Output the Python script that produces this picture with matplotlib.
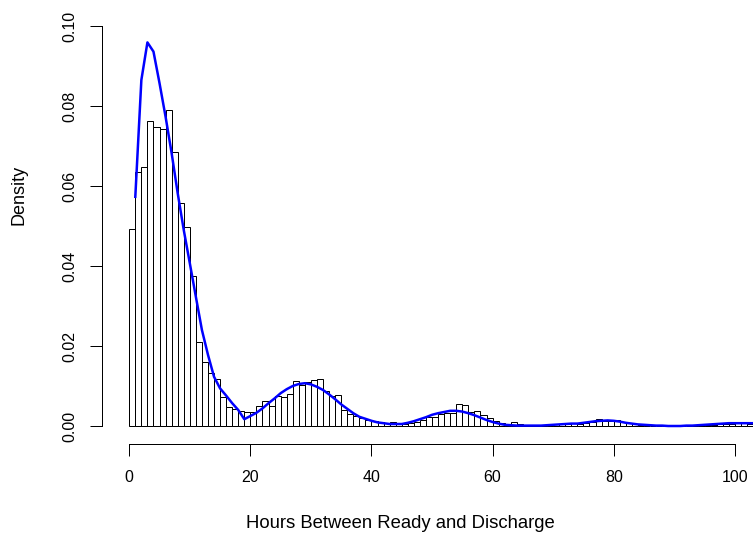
import numpy as np
import matplotlib
matplotlib.use('Agg')
from matplotlib import pyplot as plt

plt.rcParams['font.family'] = ['Liberation Sans', 'DejaVu Sans']

# histogram, 1 hour bins starting at 0
bin_edges = np.arange(0, 104)
bar_heights = [
    0.0492, 0.0636, 0.0648, 0.0763, 0.0747, 0.0742, 0.0790, 0.0684, 0.0558, 0.0498,
    0.0374, 0.0210, 0.0160, 0.0133, 0.0118, 0.0073, 0.0048, 0.0042, 0.0037, 0.0034,
    0.0035, 0.0050, 0.0063, 0.0051, 0.0076, 0.0073, 0.0080, 0.0112, 0.0102, 0.0111,
    0.0116, 0.0117, 0.0088, 0.0076, 0.0078, 0.0040, 0.0030, 0.0025, 0.0020, 0.0015,
    0.0012, 0.0010, 0.0008, 0.0009, 0.0007, 0.0006, 0.0008, 0.0011, 0.0015, 0.0023,
    0.0022, 0.0030, 0.0032, 0.0032, 0.0054, 0.0052, 0.0035, 0.0038, 0.0027, 0.0019,
    0.0012, 0.0007, 0.0006, 0.0011, 0.0004, 0.0003, 0.0003, 0.0002, 0.0003, 0.0003,
    0.0004, 0.0005, 0.0006, 0.0007, 0.0005, 0.0008, 0.0011, 0.0017, 0.0013, 0.0012,
    0.0016, 0.0010, 0.0008, 0.0006, 0.0003, 0.0001, 0.0001, 0.0000, 0.0001, 0.0000,
    0.0001, 0.0001, 0.0001, 0.0002, 0.0002, 0.0003, 0.0003, 0.0004, 0.0005, 0.0004,
    0.0010, 0.0011, 0.0006,
]

# density estimate, sampled at whole hours
dens_x = np.arange(1, 106)
dens_y = [
    0.0573, 0.0865, 0.0959, 0.0936, 0.0857, 0.0773, 0.0682, 0.0582, 0.0490, 0.0407,
    0.0323, 0.0240, 0.0178, 0.0123, 0.0094, 0.0076, 0.0057, 0.0040, 0.0017, 0.0025,
    0.0033, 0.0044, 0.0057, 0.0069, 0.0082, 0.0092, 0.0100, 0.0105, 0.0107, 0.0104,
    0.0098, 0.0090, 0.0079, 0.0067, 0.0054, 0.0043, 0.0032, 0.0023, 0.0018, 0.0013,
    0.0009, 0.0007, 0.0005, 0.0005, 0.0005, 0.0008, 0.0012, 0.0017, 0.0022, 0.0028,
    0.0032, 0.0035, 0.0038, 0.0038, 0.0036, 0.0032, 0.0027, 0.0021, 0.0015, 0.0010,
    0.0006, 0.0003, 0.0002, 0.0001, 0.0001, 0.0001, 0.0001, 0.0001, 0.0002, 0.0003,
    0.0004, 0.0005, 0.0006, 0.0006, 0.0008, 0.0010, 0.0012, 0.0013, 0.0014, 0.0013,
    0.0011, 0.0008, 0.0006, 0.0004, 0.0003, 0.0002, 0.0001, 0.0001, 0.0000, 0.0000,
    0.0000, 0.0001, 0.0001, 0.0002, 0.0003, 0.0004, 0.0005, 0.0006, 0.0007, 0.0007,
    0.0007, 0.0007, 0.0007, 0.0007, 0.0007,
]

x_ticks = [0, 20, 40, 60, 80, 100]
y_ticks = [0.00, 0.02, 0.04, 0.06, 0.08, 0.10]

W, H = 753, 537
fig = plt.figure(figsize=(W / 72, H / 72), dpi=72)
ax = fig.add_axes([102 / W, (H - 444) / H, 1 - 102 / W, (444 - 8) / H])

ax.bar(bin_edges[:-1], bar_heights, width=1, align='edge',
       facecolor='white', edgecolor='black', linewidth=1)
ax.plot(dens_x, dens_y, color='#0000ff', linewidth=2.5)

ax.set_xlim(-4.5, 103)
ax.set_ylim(-0.0045, 0.1045)

for s in ['top', 'right']:
    ax.spines[s].set_visible(False)
ax.spines['left'].set_bounds(0, 0.1)
ax.spines['bottom'].set_bounds(0, 100)
ax.spines['left'].set_linewidth(1)
ax.spines['bottom'].set_linewidth(1)

ax.set_xticks(x_ticks)
ax.set_xticklabels([str(t) for t in x_ticks])
ax.set_yticks(y_ticks)
ax.set_yticklabels(['%.2f' % t for t in y_ticks], rotation=90, va='center')
ax.tick_params(axis='both', length=12, width=1, labelsize=16)
ax.tick_params(axis='x', pad=14)
ax.tick_params(axis='y', pad=13)

fig.text(19 / W, 1 - 195 / H, 'Density', rotation=90, ha='center', va='center', fontsize=18)
fig.text(400 / W, 1 - 523 / H, 'Hours Between Ready and Discharge', ha='center', va='center', fontsize=18.5)

fig.savefig('out.png', dpi=72)
